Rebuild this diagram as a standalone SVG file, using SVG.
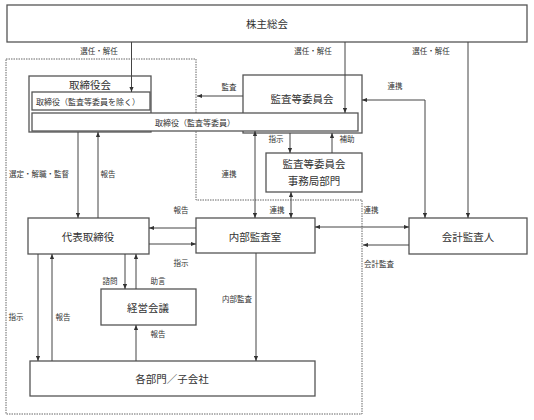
<svg xmlns="http://www.w3.org/2000/svg" width="534" height="420" viewBox="0 0 534 420">
<style>
.b{fill:#fff;stroke:#555;stroke-width:1.3}
.t{font-family:"Noto Sans CJK JP","Noto Sans",sans-serif;fill:#333;text-anchor:middle;dominant-baseline:central}
.n{font-size:10.5px}
.s{font-size:8px}
.l{font-size:7.5px}
.c{fill:none;stroke:#444;stroke-width:1;marker-end:url(#a)}
.d{fill:none;stroke:#444;stroke-width:1;marker-end:url(#a);marker-start:url(#a)}
</style>
<defs>
<marker id="a" viewBox="0 0 6 6" refX="6" refY="3" markerWidth="5" markerHeight="5" orient="auto-start-reverse"><path d="M0,0.5 L6,3 L0,5.5 z" fill="#333"/></marker>
</defs>
<rect width="534" height="420" fill="#fff"/>
<path d="M6,59 H196 V200 H362 V414 H6 Z" fill="none" stroke="#666" stroke-width="1" stroke-dasharray="1.5,1"/>
<g id="kabunushi"><rect class="b" x="7" y="5" width="520" height="37"/><text class="t n" x="267" y="23">株主総会</text></g>
<g id="torishimariyakukai"><rect class="b" x="29" y="76" width="122" height="56"/><text class="t n" x="90" y="84">取締役会</text></g>
<g id="kansaiinkai"><rect class="b" x="243" y="75" width="119" height="58"/><text class="t n" x="302" y="98">監査等委員会</text></g>
<g id="torishimariyaku1"><rect class="b" x="32" y="92" width="118" height="18"/><text class="t s" x="88" y="101">取締役（監査等委員を除く）</text></g>
<g id="torishimariyaku2"><rect class="b" x="32" y="113" width="326" height="18"/><text class="t s" x="195" y="122">取締役（監査等委員）</text></g>
<g id="jimukyoku"><rect class="b" x="266" y="153" width="96" height="39"/><text class="t n" x="314" y="163">監査等委員会</text><text class="t n" x="314" y="180">事務局部門</text></g>
<g id="daihyo"><rect class="b" x="28" y="218" width="121" height="36"/><text class="t n" x="88" y="236">代表取締役</text></g>
<g id="naibu"><rect class="b" x="196" y="218" width="119" height="35"/><text class="t n" x="255" y="236">内部監査室</text></g>
<g id="kaikei"><rect class="b" x="409" y="218" width="118" height="36"/><text class="t n" x="468" y="236">会計監査人</text></g>
<g id="keiei"><rect class="b" x="101" y="289" width="95" height="36"/><text class="t n" x="148" y="307">経営会議</text></g>
<g id="kakubumon"><rect class="b" x="30" y="361" width="285" height="35"/><text class="t n" x="172" y="378">各部門／子会社</text></g>
<g id="connectors">
<path class="c" d="M131.5,42 V92"/>
<path class="c" d="M345,42 V113"/>
<path class="c" d="M468,42 V218"/>
<path class="c" d="M243,96 H197"/>
<path class="d" d="M425,218 V100 H362"/>
<path class="c" d="M290,133 V153"/>
<path class="c" d="M332,153 V133"/>
<path class="d" d="M255,131 V218"/>
<path class="d" d="M291,192 V218"/>
<path class="d" d="M315,227 H409"/>
<path class="c" d="M409,245 H363"/>
<path class="c" d="M78,132 V218"/>
<path class="c" d="M98,218 V132"/>
<path class="c" d="M196,228 H149"/>
<path class="c" d="M149,244 H196"/>
<path class="c" d="M125,254 V289"/>
<path class="c" d="M136,289 V254"/>
<path class="c" d="M38,254 V361"/>
<path class="c" d="M52,361 V254"/>
<path class="c" d="M136,361 V325"/>
<path class="c" d="M256,253 V361"/>
</g>
<g id="labels">
<text class="t l" x="99" y="50">選任・解任</text>
<text class="t l" x="313" y="50">選任・解任</text>
<text class="t l" x="431" y="50">選任・解任</text>
<text class="t l" x="229" y="86">監査</text>
<text class="t l" x="395" y="85">連携</text>
<text class="t l" x="276" y="138">指示</text>
<text class="t l" x="347" y="138">補助</text>
<text class="t l" x="229" y="173">連携</text>
<text class="t l" x="277" y="209">連携</text>
<text class="t l" x="371" y="209">連携</text>
<text class="t l" x="379" y="263">会計監査</text>
<text class="t l" x="39" y="173">選定・解職・監督</text>
<text class="t l" x="108" y="173">報告</text>
<text class="t l" x="181" y="209">報告</text>
<text class="t l" x="181" y="262">指示</text>
<text class="t l" x="110" y="280">諮問</text>
<text class="t l" x="158" y="280">助言</text>
<text class="t l" x="16" y="316">指示</text>
<text class="t l" x="63" y="316">報告</text>
<text class="t l" x="158" y="333">報告</text>
<text class="t l" x="237" y="298">内部監査</text>
</g>
</svg>
